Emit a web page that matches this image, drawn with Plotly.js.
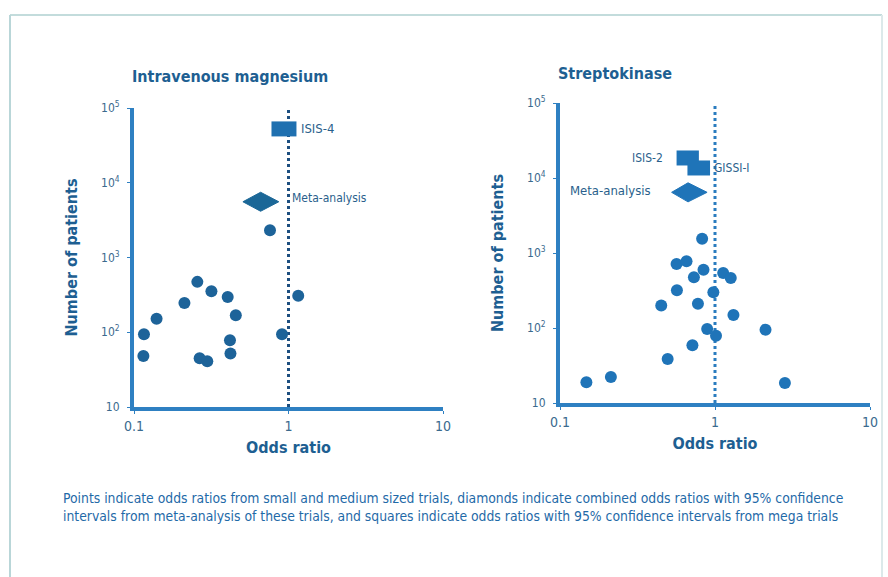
<!DOCTYPE html>
<html>
<head>
<meta charset="utf-8">
<script src="https://cdn.plot.ly/plotly-3.0.1.min.js"></script>
<style>html,body{margin:0;padding:0;background:#fff;}#chart{width:888px;height:577px;}</style>
</head>
<body>
<div id="chart"></div>
<script>
// ---------- Data ----------
// Intravenous magnesium: small/medium trials
const magOR = [0.116, 0.115, 0.140, 0.212, 0.257, 0.317, 0.404, 0.456, 0.418, 0.421, 0.266, 0.298, 0.759, 0.908, 1.156];
const magN  = [94, 48, 152, 247, 472, 354, 297, 169, 78, 52, 45, 41, 2320, 94, 307];
// Magnesium meta-analysis (diamond)
const magMeta = {est: 0.66, lo: 0.507, hi: 0.865, n: 5570};
// Mega trial ISIS-4 (square: 95% CI)
const isis4 = {est: 0.935, lo: 0.776, hi: 1.126, n: 52500};

// Streptokinase: small/medium trials
const skOR = [0.148, 0.213, 0.495, 0.715, 0.890, 1.015, 0.450, 0.776, 0.568, 0.976, 1.315, 2.118, 2.825, 0.565, 0.655, 0.731, 0.843, 0.826, 1.129, 1.264];
const skN  = [18.9, 22.2, 38.6, 58.7, 97, 79, 200, 211, 318, 299, 149, 95, 18.5, 713, 774, 474, 600, 1552, 541, 464];
// Streptokinase meta-analysis
const skMeta = {est: 0.67, lo: 0.525, hi: 0.889, n: 6440};
// Mega trials
const isis2 = {est: 0.667, lo: 0.565, hi: 0.787, n: 18490};
const gissi = {est: 0.785, lo: 0.664, hi: 0.929, n: 13600};

const yTickVals = [10, 100, 1000, 10000, 100000];
const yTickText = ['10', '10<sup>2</sup>', '10<sup>3</sup>', '10<sup>4</sup>', '10<sup>5</sup>'];
const xTickVals = [0.1, 1, 10];
const xTickText = ['0.1', '1', '10'];

const captionLines = [
  'Points indicate odds ratios from small and medium sized trials, diamonds indicate combined odds ratios with 95% confidence',
  'intervals from meta-analysis of these trials, and squares indicate odds ratios with 95% confidence intervals from mega trials'
];

// ---------- Styles ----------
const AXIS_BLUE = '#2e80c2';
const DOT_L = '#1d6399';
const DOT_R = '#1f74b8';
const TEXT_BLUE = '#1e5f92';
const FONT = '"Liberation Sans Narrow", "DejaVu Sans Condensed", "Open Sans", sans-serif';
const DIAMOND_K = 1.34;

function diamond(m, xa, ya, color) {
  return {
    x: [m.lo, m.est, m.hi, m.est, m.lo],
    y: [m.n, m.n * DIAMOND_K, m.n, m.n / DIAMOND_K, m.n],
    xaxis: xa, yaxis: ya, mode: 'lines', fill: 'toself',
    fillcolor: color, line: {color: color, width: 1}, hoverinfo: 'skip', showlegend: false
  };
}
function square(m, xa, ya, color) {
  return {
    x: [m.lo, m.hi], y: [m.n, m.n], xaxis: xa, yaxis: ya, mode: 'lines',
    line: {color: color, width: 15}, showlegend: false, hoverinfo: 'skip'
  };
}

const traces = [
  {x: magOR, y: magN, xaxis: 'x', yaxis: 'y', mode: 'markers', type: 'scatter',
   marker: {size: 12, color: DOT_L}, cliponaxis: false, showlegend: false},
  diamond(magMeta, 'x', 'y', '#1b6797'),
  square(isis4, 'x', 'y', '#1f70b0'),
  {x: skOR, y: skN, xaxis: 'x2', yaxis: 'y2', mode: 'markers', type: 'scatter',
   marker: {size: 12, color: DOT_R}, cliponaxis: false, showlegend: false},
  diamond(skMeta, 'x2', 'y2', '#1f74b8'),
  square(isis2, 'x2', 'y2', '#1f74b8'),
  square(gissi, 'x2', 'y2', '#1f74b8')
];

function xAxis(domain, anchor) {
  return {
    type: 'log', range: [-1, 1], domain: domain, anchor: anchor,
    showgrid: false, zeroline: false, showline: true, linecolor: AXIS_BLUE, linewidth: 4,
    ticks: 'outside', ticklen: 3, tickcolor: AXIS_BLUE, tickwidth: 1,
    tickvals: xTickVals, ticktext: xTickText,
    tickfont: {family: FONT, size: 14, color: '#3b6a8e'},
    title: {text: 'Odds ratio', font: {family: FONT, size: 16, color: TEXT_BLUE, weight: 'bold'}, standoff: 10},
    fixedrange: true
  };
}
function yAxis(domain, anchor) {
  return {
    type: 'log', range: [1, 5], domain: domain, anchor: anchor,
    showgrid: false, zeroline: false, showline: true, linecolor: AXIS_BLUE, linewidth: 4,
    ticks: 'outside', ticklen: 3, tickcolor: AXIS_BLUE, tickwidth: 1,
    tickvals: yTickVals, ticktext: yTickText, ticklabelstandoff: 5,
    tickfont: {family: FONT, size: 12, color: '#3b6a8e'},
    title: {text: 'Number of patients', font: {family: FONT, size: 16, color: TEXT_BLUE, weight: 'bold'}, standoff: 20},
    fixedrange: true
  };
}

const layout = {
  width: 888, height: 577,
  margin: {l: 0, r: 0, t: 0, b: 0},
  paper_bgcolor: '#ffffff', plot_bgcolor: 'rgba(0,0,0,0)',
  showlegend: false,
  xaxis: xAxis([134/888, 443/888], 'y'),
  yaxis: yAxis([1 - 407/577, 1 - 108/577], 'x'),
  xaxis2: xAxis([560/888, 870/888], 'y2'),
  yaxis2: yAxis([1 - 403/577, 1 - 103/577], 'x2'),
  shapes: [
    {type: 'line', xref: 'x', yref: 'y', x0: 1, x1: 1, y0: 10, y1: 100000,
     line: {color: '#1d4f80', width: 3, dash: 'dot'}, layer: 'below'},
    {type: 'line', xref: 'x2', yref: 'y2', x0: 1, x1: 1, y0: 10, y1: 120000,
     line: {color: '#2a7cbf', width: 3, dash: 'dot'}, layer: 'below'},
    // outer frame
    {type: 'line', xref: 'paper', yref: 'paper', x0: 10/888, x1: 882/888, y0: 1 - 15/577, y1: 1 - 15/577,
     line: {color: '#c3dcdc', width: 2}},
    {type: 'line', xref: 'paper', yref: 'paper', x0: 10/888, x1: 10/888, y0: 0, y1: 1 - 15/577,
     line: {color: '#b9d6d8', width: 2}},
    {type: 'line', xref: 'paper', yref: 'paper', x0: 882/888, x1: 882/888, y0: 0, y1: 1 - 15/577,
     line: {color: '#dce9ea', width: 2}}
  ],
  annotations: [
    {text: 'Intravenous magnesium', xref: 'paper', yref: 'paper', x: 230/888, y: 1 - 77/577,
     xanchor: 'center', yanchor: 'middle',
     showarrow: false, font: {family: FONT, size: 16, color: TEXT_BLUE, weight: 'bold'}},
    {text: 'Streptokinase', xref: 'paper', yref: 'paper', x: 615/888, y: 1 - 73/577,
     xanchor: 'center', yanchor: 'middle',
     showarrow: false, font: {family: FONT, size: 16, color: TEXT_BLUE, weight: 'bold'}},
    {text: 'ISIS-4', xref: 'x', yref: 'y', x: Math.log10(isis4.hi), y: Math.log10(isis4.n),
     xanchor: 'left', xshift: 3, showarrow: false, font: {family: FONT, size: 13, color: '#2a5f8c'}},
    {text: 'Meta-analysis', xref: 'x', yref: 'y', x: Math.log10(1), y: Math.log10(magMeta.n),
     xanchor: 'left', xshift: 1, yshift: 4, showarrow: false, font: {family: FONT, size: 12, color: '#2a5f8c'}},
    {text: 'ISIS-2', xref: 'x2', yref: 'y2', x: Math.log10(isis2.lo), y: Math.log10(isis2.n),
     xanchor: 'right', xshift: -12, showarrow: false, font: {family: FONT, size: 12, color: '#2a5f8c'}},
    {text: 'GISSI-I', xref: 'x2', yref: 'y2', x: Math.log10(gissi.hi), y: Math.log10(gissi.n),
     xanchor: 'left', xshift: 2, showarrow: false, font: {family: FONT, size: 12, color: '#2a5f8c'}},
    {text: 'Meta-analysis', xref: 'x2', yref: 'y2', x: Math.log10(skMeta.lo), y: Math.log10(skMeta.n),
     xanchor: 'right', xshift: -19, yshift: 2, showarrow: false, font: {family: FONT, size: 13, color: '#2a5f8c'}},
    {text: captionLines.join('<br>'), xref: 'paper', yref: 'paper', x: 61/888, y: 1 - 507/577,
     xanchor: 'left', yanchor: 'middle', align: 'left', showarrow: false,
     font: {family: FONT, size: 13.8, color: '#1f6aa8'}}
  ]
};

Plotly.newPlot('chart', traces, layout, {staticPlot: true, displayModeBar: false});
</script>
</body>
</html>
